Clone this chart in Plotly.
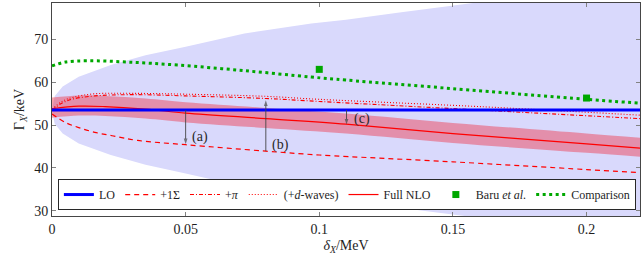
import plotly.graph_objects as go

# ---- data ----
band_x = [0, 0.001, 0.004, 0.01, 0.022, 0.035, 0.05, 0.072, 0.097, 0.11, 0.13, 0.157, 0.19, 0.22]
band_hi = [53.5, 56.7, 59.0, 61.3, 64.0, 66.3, 68.3, 71.4, 73.7, 74.6, 76.3, 78.5, 81.0, 83.5]
band_lo = [53.5, 50.3, 48.0, 45.7, 43.0, 40.7, 38.7, 35.6, 33.3, 32.4, 30.7, 28.5, 26.0, 23.5]

nlo_x = [0, 0.01, 0.02, 0.035, 0.05, 0.08, 0.11, 0.15, 0.2, 0.22]
nlo_y = [53.8, 54.4, 54.3, 53.7, 52.8, 51.5, 50.2, 48.0, 45.6, 44.6]
nlo_hi = [56.4, 56.9, 56.8, 56.2, 55.3, 54.0, 52.7, 50.5, 48.0, 47.0]
nlo_lo = [51.7, 52.2, 52.1, 51.5, 50.6, 49.3, 48.0, 45.8, 43.5, 42.6]

lo_x = [0, 0.22]
lo_y = [53.5, 53.5]

sig_x = [0, 0.005, 0.01, 0.016, 0.0225, 0.032, 0.05, 0.08, 0.1, 0.15, 0.2, 0.22]
sig_y = [52.6, 50.6, 49.4, 48.3, 47.5, 46.4, 45.4, 43.9, 43.0, 41.4, 39.6, 38.9]

pi_x = [0, 0.004, 0.008, 0.016, 0.03, 0.05, 0.08, 0.1, 0.16, 0.22]
pi_y = [53.5, 55.2, 56.1, 56.8, 57.1, 56.8, 56.2, 55.5, 53.5, 51.5]
dw_y = [53.7, 55.6, 56.5, 57.3, 57.4, 57.2, 56.7, 56.0, 54.3, 52.3]

cmp_x = [0, 0.005, 0.0135, 0.0285, 0.047, 0.072, 0.097, 0.11, 0.15, 0.2, 0.22]
cmp_y = [63.8, 64.7, 65.0, 64.7, 64.0, 62.7, 61.2, 60.5, 58.5, 56.0, 55.1]

baru_x = [0.1, 0.2]
baru_y = [63.0, 56.3]

# arrows: (x, tail y, tip y, label, label x, label y)
arrows = [
    (0.05, 53.5, 45.5, "(a)", 0.0555, 47.2),
    (0.08, 43.9, 55.8, "(b)", 0.0855, 45.3),
    (0.1102, 53.5, 50.1, "(c)", 0.1158, 51.4),
]

xticks = [0, 0.05, 0.1, 0.15, 0.2]
xtick_text = ["0", "0.05", "0.1", "0.15", "0.2"]
yticks = [30, 40, 50, 60, 70]

FONT = "Liberation Serif"
RED = "rgb(255,0,0)"
BLUE = "rgb(0,0,255)"
GREEN = "rgb(0,168,0)"
ARROW = "rgb(70,70,70)"

fig = go.Figure()

# blue band
fig.add_trace(go.Scatter(x=band_x, y=band_hi, mode="lines", line=dict(width=0, color="rgba(0,0,0,0)"),
                         showlegend=False, hoverinfo="skip"))
fig.add_trace(go.Scatter(x=band_x, y=band_lo, mode="lines", line=dict(width=0, color="rgba(0,0,0,0)"),
                         fill="tonexty", fillcolor="rgb(217,217,252)", showlegend=False, hoverinfo="skip"))
# red band
fig.add_trace(go.Scatter(x=nlo_x, y=nlo_hi, mode="lines", line=dict(width=0, color="rgba(0,0,0,0)", shape="spline"),
                         showlegend=False, hoverinfo="skip"))
fig.add_trace(go.Scatter(x=nlo_x, y=nlo_lo, mode="lines", line=dict(width=0, color="rgba(0,0,0,0)", shape="spline"),
                         fill="tonexty", fillcolor="rgba(240,40,60,0.42)", showlegend=False, hoverinfo="skip"))

fig.add_trace(go.Scatter(x=sig_x, y=sig_y, mode="lines", name="+1Σ", legendrank=2,
                         line=dict(color=RED, width=1.2, dash="5px,4px", shape="spline")))
fig.add_trace(go.Scatter(x=pi_x, y=pi_y, mode="lines", name="+<i>π</i>", legendrank=3,
                         line=dict(color=RED, width=1.1, dash="4px,2px,1px,2px", shape="spline")))
fig.add_trace(go.Scatter(x=pi_x, y=dw_y, mode="lines", name="(+<i>d</i>-waves)", legendrank=4,
                         line=dict(color=RED, width=1.1, dash="1px,2px", shape="spline")))
fig.add_trace(go.Scatter(x=nlo_x, y=nlo_y, mode="lines", name="Full NLO", legendrank=5,
                         line=dict(color=RED, width=1.2, shape="spline")))
fig.add_trace(go.Scatter(x=lo_x, y=lo_y, mode="lines", name="LO", legendrank=1,
                         line=dict(color=BLUE, width=3)))

# difference arrows (line with arrow-head marker at the tip)
for ax_, tail, tip, lab, lx, ly in arrows:
    fig.add_trace(go.Scatter(x=[ax_, ax_], y=[tail, tip], mode="lines+markers", showlegend=False,
                             hoverinfo="skip", line=dict(color=ARROW, width=0.9),
                             marker=dict(symbol="arrow", angleref="previous", size=[0, 6],
                                         color=ARROW, line=dict(width=0))))

fig.add_trace(go.Scatter(x=cmp_x, y=cmp_y, mode="lines", name="Comparison", legendrank=7,
                         line=dict(color=GREEN, width=3, dash="3px,3.5px", shape="spline")))
fig.add_trace(go.Scatter(x=baru_x, y=baru_y, mode="markers", name="Baru <i>et al.</i>", legendrank=6,
                         marker=dict(color=GREEN, size=7, symbol="square")))

annotations = []
for ax_, tail, tip, lab, lx, ly in arrows:
    annotations.append(dict(x=lx, y=ly, xref="x", yref="y", text=lab, showarrow=False,
                            xanchor="center", yanchor="middle",
                            font=dict(family=FONT, size=14, color="rgb(40,40,40)")))

axis_common = dict(showline=True, linecolor="rgb(70,70,70)", linewidth=1, mirror="allticks",
                   ticks="inside", ticklen=4, tickcolor="rgb(130,130,130)", tickwidth=1,
                   showgrid=False, zeroline=False,
                   tickfont=dict(family=FONT, size=14, color="rgb(30,30,30)"))

fig.update_layout(
    width=643, height=261,
    margin=dict(l=52, r=3, t=3, b=45),
    paper_bgcolor="white", plot_bgcolor="white",
    font=dict(family=FONT, size=14, color="rgb(30,30,30)"),
    xaxis=dict(range=[0, 0.22], tickvals=xticks, ticktext=xtick_text,
               title=dict(text="<i>δ</i><sub><i>X</i></sub>/MeV", font=dict(family=FONT, size=14), standoff=4),
               **axis_common),
    yaxis=dict(range=[28.75, 78.5], tickvals=yticks,
               title=dict(text="Γ<sub><i>X</i></sub>/keV", font=dict(family=FONT, size=14), standoff=6),
               **axis_common),
    legend=dict(orientation="h", x=0.01, y=0.028, xanchor="left", yanchor="bottom",
                traceorder="normal",
                bgcolor="white", bordercolor="rgb(40,40,40)", borderwidth=1,
                font=dict(family=FONT, size=12, color="rgb(30,30,30)"),
                itemwidth=30, tracegroupgap=0),
    annotations=annotations,
    showlegend=True,
)

fig.write_html("out.html", config={"displayModeBar": False},
               post_script="document.body.style.margin='0';document.body.style.padding='0';")
